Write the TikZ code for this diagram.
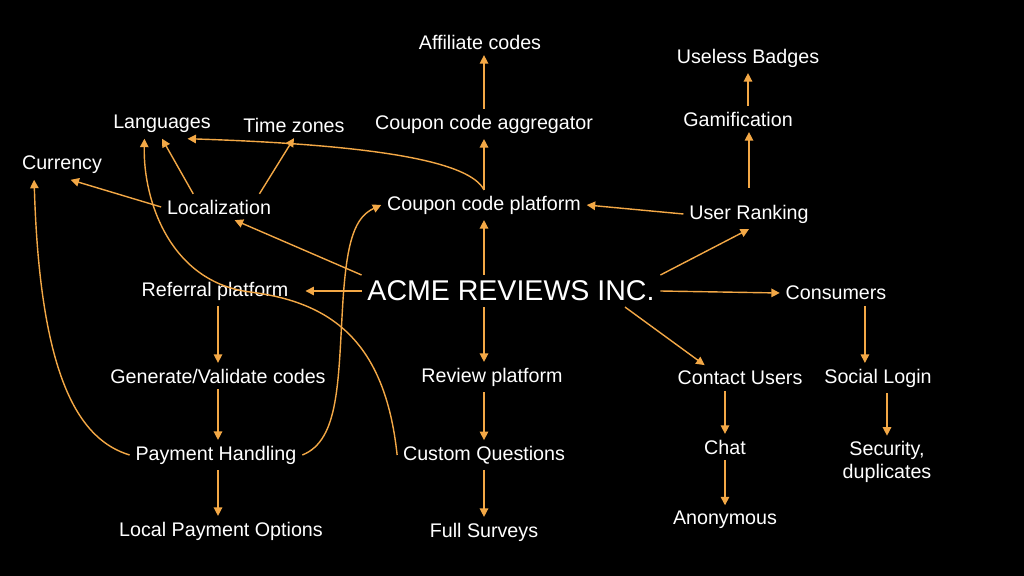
\documentclass[tikz,border=0pt]{standalone}
\usepackage{fontspec}
\setmainfont{Liberation Sans}
\usetikzlibrary{arrows.meta}

\definecolor{linkorange}{RGB}{243,168,70}
\tikzset{
  lbl/.style={text=white, font=\fontsize{14}{16}\selectfont, inner sep=4pt},
  big/.style={text=white, font=\fontsize{20.3}{24}\selectfont, inner sep=4pt},
  link/.style={draw=linkorange, line width=1pt, -{Triangle[length=6pt,width=6pt]}},
}

\begin{document}
\begin{tikzpicture}[x=0.025cm, y=-0.025cm]
\useasboundingbox (0,0) rectangle (1024,576);
\fill[black] (0,0) rectangle (1024,576);

% top rows
\node[lbl] (aff) at (480,42) {Affiliate codes};
\node[lbl] (badge) at (748,58) {Useless Badges};
\node[lbl] (lang) at (162,124) {Languages};
\node[lbl] (tz) at (294,125) {Time zones};
\node[lbl] (agg) at (484,124) {Coupon code aggregator};
\node[lbl] (gam) at (738,119) {Gamification};
\node[lbl] (cur) at (62,165) {Currency};
\node[lbl] (loc) at (219,207) {Localization};
\node[lbl] (ccp) at (484,205) {Coupon code platform};
\node[lbl] (rank) at (749,214) {User Ranking};

% middle row
\node[lbl] (ref) at (215,291) {Referral platform};
\node[big] (acme) at (511,291) {ACME REVIEWS INC.};
\node[lbl] (cons) at (836,293) {Consumers};

% bottom rows
\node[lbl] (gen) at (218,376) {Generate/Validate codes};
\node[lbl] (rev) at (492,377) {Review platform};
\node[lbl] (contact) at (740,378) {Contact Users};
\node[lbl] (social) at (878,378) {Social Login};
\node[lbl] (pay) at (216,455) {Payment Handling};
\node[lbl] (cq) at (484,455) {Custom Questions};
\node[lbl] (chat) at (725,447) {Chat};
\node[lbl, align=center] (sec) at (887,462) {Security,\\duplicates};
\node[lbl] (local) at (221,531) {Local Payment Options};
\node[lbl] (full) at (484,532) {Full Surveys};
\node[lbl] (anon) at (725,520) {Anonymous};

% centre column
\draw[link] (agg.north) -- (agg.north |- aff.south);
\draw[link] (ccp.north) -- (agg.south);
\draw[link] (acme.north -| ccp) -- (ccp.south);
\draw[link] (acme.south -| cq) -- (rev.north -| cq);
\draw[link] (rev.south -| cq) -- (cq.north);
\draw[link] (cq.south) -- (full.north);

% left side
\draw[link, shorten >=8pt] (acme.west) -- (ref.east);
\draw[link] (ref.south -| gen) -- (gen.north);
\draw[link] (gen.south) -- (gen.south |- pay.north);
\draw[link] (pay.south -| gen) -- (local.north -| gen);
\draw[link] (acme.north west) -- (loc.-40);
\draw[link] (loc.west) -- (cur.-60);
\draw[link] (loc.153) -- (lang.south);
\draw[link] (loc.18) -- (tz.south);
\draw[link] (ccp.north) .. controls (470,162) and (380,145) .. (lang.-30);
\draw[link] (cq.west) .. controls (385,340) and (330,302) .. (250,292)
  .. controls (170,282) and (143,200) .. (lang.-140);
\draw[link] (pay.west) .. controls (80,440) and (40,380) .. (cur.-152);
\draw[link] (pay.east) .. controls (340,440) and (338,380) .. (343,300)
  .. controls (347,240) and (355,217) .. (ccp.west);

% right side
\draw[link] (rank.west) -- (ccp.east);
\draw[link, shorten <=8pt] (rank.north) -- (rank.north |- gam.south);
\draw[link] (gam.north -| badge) -- (badge.south);
\draw[link] (acme.north east) -- (rank.south);
\draw[link] (acme.east) -- (cons.west);
\draw[link] (acme.-8) -- (contact.160);
\draw[link] (cons.-24) -- (cons.-24 |- social.north);
\draw[link] (social.south -| sec) -- (sec.north);
\draw[link] (contact.south -| chat) -- (chat.north);
\draw[link] (chat.south) -- (anon.north);
\end{tikzpicture}
\end{document}
